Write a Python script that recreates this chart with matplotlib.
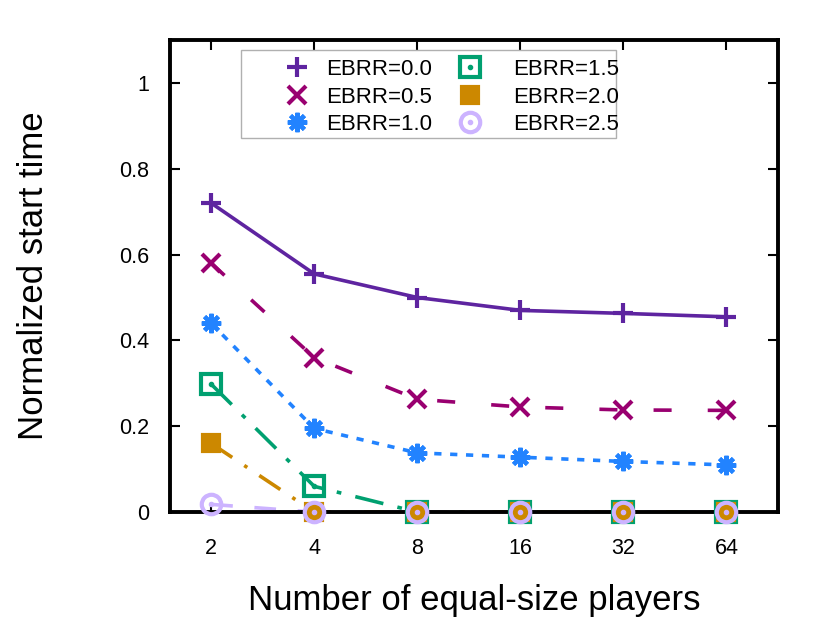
import matplotlib.pyplot as plt
from matplotlib.lines import Line2D
from matplotlib.patches import Rectangle
from matplotlib.legend_handler import HandlerTuple

plt.rcParams['font.family'] = ['Liberation Sans', 'DejaVu Sans']

# %%
# data
players = [2, 4, 8, 16, 32, 64]
ebrr_00 = [0.72, 0.555, 0.50, 0.47, 0.463, 0.455]
ebrr_05 = [0.58, 0.36, 0.263, 0.245, 0.238, 0.237]
ebrr_10 = [0.44, 0.195, 0.138, 0.128, 0.118, 0.11]
ebrr_15 = [0.298, 0.06, 0.0, 0.0, 0.0, 0.0]
ebrr_20 = [0.16, 0.0, 0.0, 0.0, 0.0, 0.0]
ebrr_25 = [0.018, 0.0, 0.0, 0.0, 0.0, 0.0]
labels = ['EBRR=0.0', 'EBRR=0.5', 'EBRR=1.0', 'EBRR=1.5', 'EBRR=2.0', 'EBRR=2.5']

# %%
fig = plt.figure(figsize=(8.3, 6.23), dpi=100)
ax = fig.add_axes([0.2048, 0.178, 0.7325, 0.7578])

lw = 2.6
series = [
    (ebrr_00, '#5e24a0', '-', '+', 15, 'none'),
    (ebrr_05, '#990070', (0, (5, 10)), 'x', 13, 'none'),
    (ebrr_10, '#2283ff', (0, (2, 2.4)), (8, 2, 0), 14, 'none'),
    (ebrr_15, '#00a070', (0, (8, 4, 1.3, 4)), 's', 14, 'none'),
    (ebrr_20, '#cc8800', (0, (7, 4, 1, 4)), 's', 11, None),
    (ebrr_25, '#ccb3ff', (0, (6, 6)), 'o', 14, 'none'),
]

handles = []
for (vals, col, ls, mk, ms, mfc) in series:
    ax.plot(players, vals, color=col, linestyle=ls, linewidth=lw, zorder=2)
    kw = dict(marker=mk, markersize=ms, markeredgewidth=3.0, color=col, linestyle='none',
              clip_on=False, zorder=3)
    if mfc == 'none':
        kw['markerfacecolor'] = 'none'
    ax.plot(players, vals, **kw)
    h = Line2D([], [], **kw)
    if mk in ('s', 'o') and mfc == 'none':
        # gnuplot draws a small dot in the middle of open symbols
        ax.plot(players, vals, marker='o', markersize=3, color=col, linestyle='none',
                clip_on=False, zorder=3)
        dot = Line2D([], [], marker='o', markersize=3, color=col, linestyle='none')
        h = (h, dot)
    handles.append(h)

ax.set_xscale('log', base=2)
ax.set_xlim(2 ** 0.6, 2 ** 6.5)
ax.set_ylim(0, 1.1)
ax.set_xticks(players)
ax.set_xticklabels([str(p) for p in players])
ax.minorticks_off()
ax.set_yticks([0, 0.2, 0.4, 0.6, 0.8, 1.0])
ax.set_yticklabels(['0', '0.2', '0.4', '0.6', '0.8', '1'])
ax.tick_params(direction='in', length=7, width=1.5, top=True, right=True,
               labelsize=15.5)
ax.tick_params(axis='x', pad=19)
ax.tick_params(axis='y', pad=15)
for s in ax.spines.values():
    s.set_linewidth(2.8)

ax.set_xlabel('Number of equal-size players', fontsize=25, labelpad=18)
ax.set_ylabel('Normalized start time', fontsize=25, labelpad=50)

# legend frame drawn separately, like gnuplot's key box
ax.add_patch(Rectangle((0.117, 0.792), 0.617, 0.186, transform=ax.transAxes,
                       facecolor='white', edgecolor='#b0b0b0', linewidth=1.0, zorder=4))
tmap = {tuple: HandlerTuple(ndivide=1)}
leg1 = ax.legend(handles[:3], labels[:3], loc='upper left', bbox_to_anchor=(0.173, 0.96),
                 fontsize=16, frameon=False, handler_map=tmap,
                 handlelength=2.0, handletextpad=0.3,
                 labelspacing=0.3, borderpad=0.0, borderaxespad=0.0)
leg1.set_zorder(5)
ax.add_artist(leg1)
leg2 = ax.legend(handles[3:], labels[3:], loc='upper left', bbox_to_anchor=(0.457, 0.96),
                 fontsize=16, frameon=False, handler_map=tmap,
                 handlelength=2.0, handletextpad=0.95,
                 labelspacing=0.3, borderpad=0.0, borderaxespad=0.0)
leg2.set_zorder(5)

fig.savefig('out.png', dpi=100)
